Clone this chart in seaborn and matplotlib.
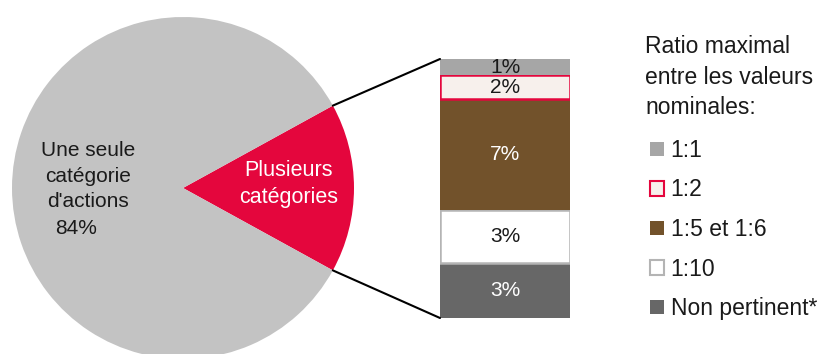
import matplotlib
matplotlib.use("Agg")
import matplotlib.pyplot as plt
import seaborn as sns
from matplotlib.patches import Patch, ConnectionPatch
import numpy as np

# ---- data ----
pie_labels = ["Plusieurs\ncatégories", "Une seule\ncatégorie\nd'actions"]
pie_values = [16, 84]
pie_pct_label = "84%"

bar_categories = ["Non pertinent*", "1:10", "1:5 et 1:6", "1:2", "1:1"]
bar_values = [3.4, 3.3, 6.8, 1.5, 1.0]
bar_texts = ["3%", "3%", "7%", "2%", "1%"]
legend_title = "Ratio maximal\nentre les valeurs\nnominales:"
legend_order = ["1:1", "1:2", "1:5 et 1:6", "1:10", "Non pertinent*"]

# ---- styles ----
sns.set_theme(style="white")
plt.rcParams["font.family"] = ["Liberation Sans", "DejaVu Sans"]

pie_colors = ["#e4063d", "#c3c3c3"]
bar_face = {"Non pertinent*": "#676767", "1:10": "#ffffff", "1:5 et 1:6": "#72522b",
            "1:2": "#f7f0ec", "1:1": "#a6a6a6"}
bar_edge = {"Non pertinent*": "#676767", "1:10": "#b4b4b4", "1:5 et 1:6": "#72522b",
            "1:2": "#e4063d", "1:1": "#a6a6a6"}
bar_txtcol = {"Non pertinent*": "white", "1:10": "#1a1a1a", "1:5 et 1:6": "white",
              "1:2": "#1a1a1a", "1:1": "#1a1a1a"}

W, H = 832, 354
fig = plt.figure(figsize=(W / 100, H / 100), dpi=100)

# pie axes
cx, cy, r = 183, 188, 171
axp = fig.add_axes([(cx - r) / W, (H - cy - r) / H, 2 * r / W, 2 * r / H])
half = pie_values[0] / 100 * 360 / 2
wedges, _ = axp.pie(pie_values, colors=pie_colors, startangle=-half, counterclock=True,
                    radius=1, wedgeprops=dict(linewidth=0))
axp.set_xlim(-1, 1)
axp.set_ylim(-1, 1)
axp.set_aspect("equal")
axp.axis("off")

def px2pie(x, y):
    return ((x - cx) / r, (cy - y) / r)

axp.text(*px2pie(289, 184), pie_labels[0], color="white", fontsize=15.5,
         ha="center", va="center", multialignment="center", linespacing=1.4)
axp.text(*px2pie(88, 176), pie_labels[1], color="#1a1a1a", fontsize=15,
         ha="center", va="center", multialignment="center", linespacing=1.45)
axp.text(*px2pie(76, 229), pie_pct_label, color="#1a1a1a", fontsize=15,
         ha="center", va="center")

# bar axes
bx0, bx1, by0, by1 = 440, 570, 59, 318
axb = fig.add_axes([bx0 / W, (H - by1) / H, (bx1 - bx0) / W, (by1 - by0) / H])
bottom = 0.0
for cat, val, txt in zip(bar_categories, bar_values, bar_texts):
    lw = 1.8 if bar_edge[cat] != bar_face[cat] else 0
    axb.bar(0, val, width=1, bottom=bottom, color=bar_face[cat],
            edgecolor=bar_edge[cat], linewidth=lw)
    axb.text(0, bottom + val / 2, txt, ha="center", va="center",
             fontsize=15, color=bar_txtcol[cat])
    bottom += val
axb.set_xlim(-0.5, 0.5)
axb.set_ylim(0, sum(bar_values))
axb.axis("off")

# connector lines
a = np.deg2rad(half)
for sgn, yb in [(1, sum(bar_values)), (-1, 0)]:
    con = ConnectionPatch(xyA=(np.cos(a), sgn * np.sin(a)), coordsA=axp.transData,
                          xyB=(-0.5, yb), coordsB=axb.transData,
                          color="black", linewidth=1.5)
    fig.add_artist(con)

# legend
fig.text(645 / W, 1 - 35 / H, legend_title, fontsize=16.5, color="#1a1a1a",
         ha="left", va="top", linespacing=1.42)
handles = [Patch(facecolor=bar_face[c], edgecolor=bar_edge[c],
                 linewidth=(1.5 if bar_edge[c] != bar_face[c] else 0)) for c in legend_order]
leg = fig.legend(handles, legend_order, loc="upper left",
                 bbox_to_anchor=(650 / W, 1 - 139 / H), frameon=False,
                 fontsize=16.5, handlelength=0.6, handleheight=0.6,
                 handletextpad=0.3, labelspacing=0.72, borderpad=0, borderaxespad=0)
for t in leg.get_texts():
    t.set_color("#1a1a1a")

fig.savefig("out.png", dpi=100)
